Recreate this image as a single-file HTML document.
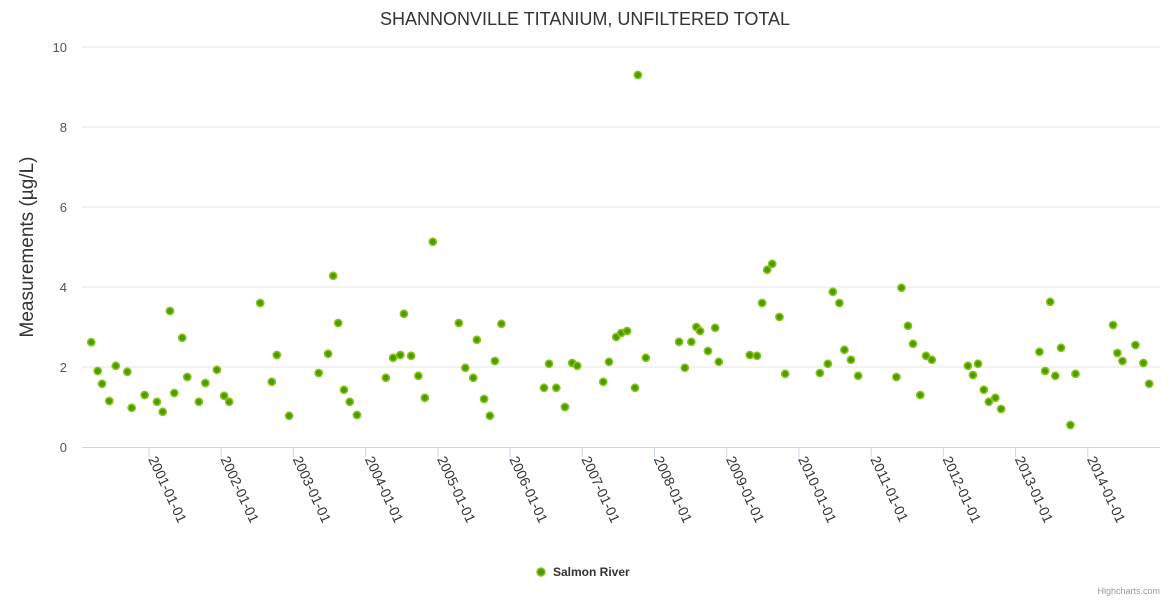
<!DOCTYPE html>
<html><head><meta charset="utf-8"><style>
body{margin:0;background:#fff;font-family:"Liberation Sans",sans-serif}
svg text{font-family:"Liberation Sans",sans-serif}
</style></head><body>
<svg id="chart" width="1170" height="600">
<text x="585" y="25" text-anchor="middle" font-size="18" fill="#333">SHANNONVILLE TITANIUM, UNFILTERED TOTAL</text>
<text transform="translate(33,247) rotate(-90)" text-anchor="middle" font-size="19" fill="#333">Measurements (µg/L)</text>
<g id="grid"></g><g id="xaxis"></g><g id="points"></g>
<g>
<circle cx="541" cy="572" r="4" fill="#4a9a00" stroke="#8cc31a" stroke-width="1.5"/>
<text x="553" y="576" font-size="12" font-weight="bold" fill="#333">Salmon River</text>
</g>
<text x="1160" y="594" text-anchor="end" font-size="9" fill="#999">Highcharts.com</text>
</svg>
<script>
const years=[2000.20,2000.29,2000.35,2000.45,2000.54,2000.70,2000.76,2000.94,2001.11,2001.19,2001.29,2001.35,2001.46,2001.53,2001.69,2001.78,2001.94,2002.04,2002.11,2002.54,2002.70,2002.77,2002.94,2003.35,2003.48,2003.55,2003.62,2003.70,2003.78,2003.88,2004.28,2004.38,2004.48,2004.53,2004.63,2004.73,2004.82,2004.93,2005.29,2005.38,2005.49,2005.54,2005.64,2005.72,2005.79,2005.88,2006.47,2006.54,2006.64,2006.76,2006.86,2006.93,2007.29,2007.37,2007.47,2007.54,2007.62,2007.73,2007.77,2007.88,2008.34,2008.42,2008.51,2008.58,2008.63,2008.74,2008.84,2008.89,2009.32,2009.42,2009.49,2009.56,2009.63,2009.73,2009.81,2010.29,2010.40,2010.47,2010.56,2010.63,2010.72,2010.82,2011.35,2011.42,2011.51,2011.58,2011.68,2011.76,2011.84,2012.34,2012.41,2012.48,2012.56,2012.63,2012.72,2012.80,2013.33,2013.41,2013.48,2013.55,2013.63,2013.76,2013.83,2014.35,2014.41,2014.48,2014.66,2014.77,2014.85];
const values=[2.62,1.9,1.58,1.15,2.03,1.88,0.98,1.3,1.13,0.88,3.4,1.35,2.73,1.75,1.13,1.6,1.93,1.28,1.13,3.6,1.63,2.3,0.78,1.85,2.33,4.28,3.1,1.43,1.13,0.8,1.73,2.23,2.3,3.33,2.28,1.78,1.23,5.13,3.1,1.98,1.73,2.68,1.2,0.78,2.15,3.08,1.48,2.08,1.48,1.0,2.1,2.03,1.63,2.13,2.75,2.85,2.9,1.48,9.3,2.23,2.63,1.98,2.63,3.0,2.9,2.4,2.98,2.13,2.3,2.28,3.6,4.43,4.58,3.25,1.83,1.85,2.08,3.88,3.6,2.43,2.18,1.78,1.75,3.98,3.03,2.58,1.3,2.28,2.18,2.03,1.8,2.08,1.43,1.13,1.23,0.95,2.38,1.9,3.63,1.78,2.48,0.55,1.83,3.05,2.35,2.15,2.55,2.1,1.58];
const yTicks=[0,2,4,6,8,10];
const xTickYears=[2001,2002,2003,2004,2005,2006,2007,2008,2009,2010,2011,2012,2013,2014];
const xTickLabels=["2001-01-01","2002-01-01","2003-01-01","2004-01-01","2005-01-01","2006-01-01","2007-01-01","2008-01-01","2009-01-01","2010-01-01","2011-01-01","2012-01-01","2013-01-01","2014-01-01"];
const NS="http://www.w3.org/2000/svg";
const L=82,R=1160,T=47,B=447,X0=2000.072,X1=2015.0;
const xs=v=>L+(v-X0)/(X1-X0)*(R-L);
const ys=v=>B-(v/10)*(B-T);
function mk(tag,attrs,parent){const e=document.createElementNS(NS,tag);for(const k in attrs)e.setAttribute(k,attrs[k]);parent.appendChild(e);return e;}
const grid=document.getElementById('grid');
yTicks.forEach(t=>{
  const y=ys(t);
  if(t>0){const ln=mk('line',{x1:L,x2:R,y1:y,y2:y,stroke:'#e6e6e6','stroke-width':1},grid);
  
  }
  const tx=mk('text',{x:67,y:y+5,'text-anchor':'end','font-size':13,fill:'#555'},grid);
  tx.textContent=t;
  
  
});
const xa=document.getElementById('xaxis');
const base=mk('line',{x1:L,x2:R,y1:B+0.5,y2:B+0.5,stroke:'#ccd6eb','stroke-width':1},xa);


xTickYears.forEach((yr,i)=>{
  const x=xs(yr);
  const tk=mk('line',{x1:x,x2:x,y1:B,y2:B+10,stroke:'#ccd6eb'},xa);
  
  
  const tx=mk('text',{transform:`translate(${x-1},${B+12}) rotate(65)`,'font-size':14,fill:'#333'},xa);
  tx.textContent=xTickLabels[i];
  
  
});
const pts=document.getElementById('points');
years.forEach((yr,i)=>{
  const c=mk('circle',{cx:xs(yr),cy:ys(values[i]),r:3.6,fill:'#4a9a00',stroke:'#8cc31a','stroke-width':1.6},pts);
  
  
});
</script>
</body></html>
